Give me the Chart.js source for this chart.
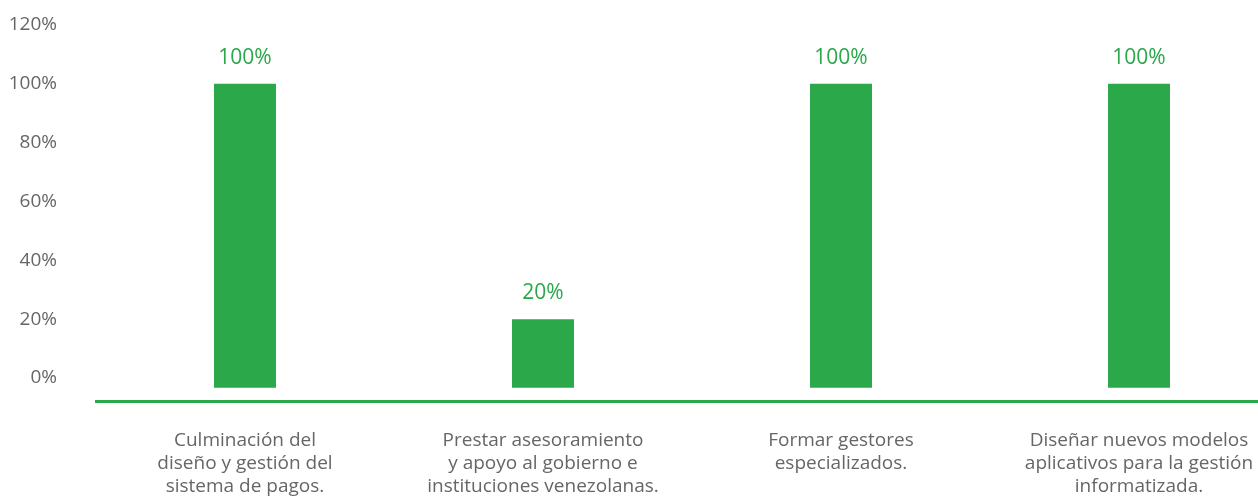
<!DOCTYPE html>
<html>
<head>
<meta charset="utf-8">
<script src="https://cdn.jsdelivr.net/npm/chart.js@4"></script>
<style>
  html, body { margin: 0; padding: 0; background: #fff; overflow: hidden; }
  #wrap { width: 1290px; height: 497px; }
</style>
</head>
<body>
<div id="wrap"><canvas id="chartMetas"></canvas></div>
<script>
// categorias (multilinea) y valores en %
const categorias = [
  ['Culminación del', 'diseño y gestión del', 'sistema de pagos.'],
  ['Prestar asesoramiento', 'y apoyo al gobierno e', 'instituciones venezolanas.'],
  ['Formar gestores', 'especializados.'],
  ['Diseñar nuevos modelos', 'aplicativos para la gestión', 'informatizada.']
];
const avance = [100, 20, 100, 100];
const yTicks = [0, 20, 40, 60, 80, 100, 120];

const verde = '#2aa84a';
const gris = '#666666';
const fuente = '"Open Sans", sans-serif';

// etiquetas encima de cada barra
const etiquetas = {
  id: 'etiquetas',
  afterDatasetsDraw(chart) {
    const ctx = chart.ctx;
    const meta = chart.getDatasetMeta(0);
    ctx.save();
    ctx.fillStyle = verde;
    ctx.font = '21px ' + fuente;
    ctx.textAlign = 'center';
    ctx.textBaseline = 'middle';
    meta.data.forEach((bar, i) => {
      ctx.fillText(avance[i] + '%', bar.x, bar.y - 26);
    });
    ctx.restore();
  }
};

const ctx = document.getElementById('chartMetas').getContext('2d');

const chartConfig = {
  type: 'bar',
  data: {
    labels: categorias,
    datasets: [{
      data: avance,
      base: -3.3,
      backgroundColor: verde,
      barPercentage: 0.208,
      categoryPercentage: 1
    }]
  },
  options: {
    responsive: true,
    maintainAspectRatio: false,
    animation: false,
    // bottom negativo: la ultima linea de etiquetas queda cortada como en el original
    layout: { padding: { top: 25, right: 2, left: 0, bottom: -29 } },
    plugins: {
      legend: { display: false },
      tooltip: { enabled: false }
    },
    scales: {
      y: {
        min: -8,
        max: 120,
        afterBuildTicks: (scale) => { scale.ticks = yTicks.map(v => ({ value: v })); },
        afterFit: (scale) => { scale.width = 96; },
        // marcas invisibles: solo separan las etiquetas del area
        grid: { display: false, drawTicks: true, tickLength: 39 },
        border: { display: false },
        ticks: {
          padding: 0,
          color: gris,
          font: { family: fuente, size: 19 },
          callback: (v) => v + '%'
        }
      },
      x: {
        grid: { display: false, drawTicks: false },
        border: { display: true, color: verde, width: 3 },
        ticks: {
          padding: 28,
          color: gris,
          maxRotation: 0,
          autoSkip: false,
          font: { family: fuente, size: 19, lineHeight: 1.2 }
        }
      }
    }
  },
  plugins: [etiquetas]
};

new Chart(ctx, chartConfig);
</script>
</body>
</html>
